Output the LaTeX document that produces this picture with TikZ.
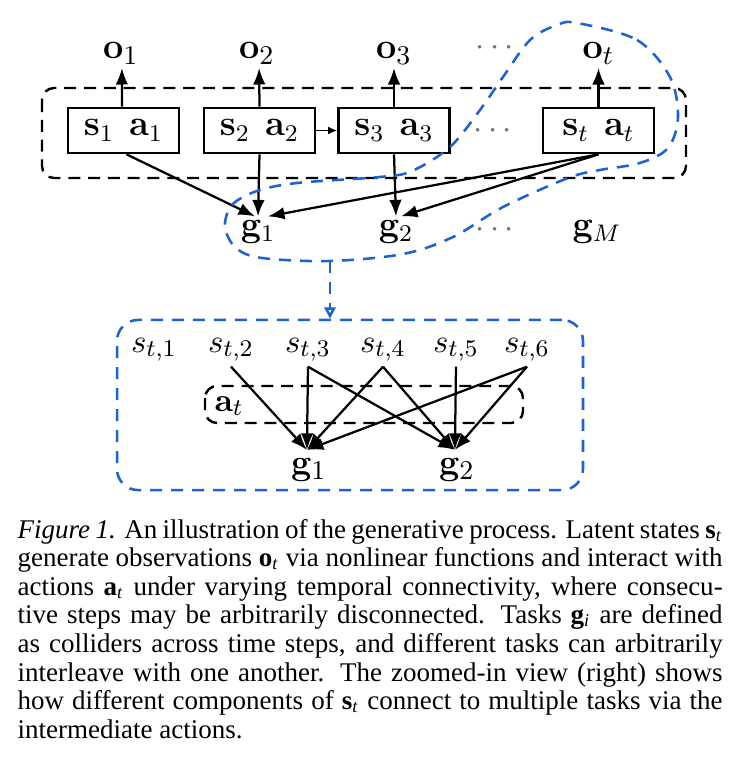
\documentclass[tikz,border=0pt]{standalone}
\usepackage[no-math]{fontspec}
\setmainfont{Liberation Serif}
\usetikzlibrary{arrows.meta,calc}
\definecolor{zoomblue}{RGB}{28,98,214}
\newcommand{\capvec}[2]{\textbf{#1}\textsubscript{\textit{#2}}}
\begin{document}
\begin{tikzpicture}[x=0.3333pt,y=-0.3333pt,
  toplbl/.style={inner sep=1pt, font=\fontsize{12.5}{14}\selectfont},
  glbl/.style={inner sep=1pt, font=\fontsize{11.5}{13}\selectfont},
  lowlbl/.style={inner sep=1.5pt, font=\fontsize{11}{13}\selectfont},
  lowg/.style={inner sep=2.5pt, font=\fontsize{12.5}{14}\selectfont},
  statebox/.style={draw, line width=0.9pt, minimum width=37pt, minimum height=15pt,
    inner sep=0pt, font=\fontsize{11.5}{13}\selectfont},
  ellip/.style={text=black!55, font=\fontsize{11}{13}\selectfont, inner sep=0pt},
  blkdash/.style={draw, line width=0.8pt, dash pattern=on 4pt off 2.6pt, rounded corners=4pt},
  bluedash/.style={draw=zoomblue, line width=0.85pt, dash pattern=on 4pt off 3pt},
  arr/.style={line width=0.75pt, -{Latex[length=5.5pt,width=4.2pt]}},
  thinarr/.style={line width=0.5pt, -{Latex[length=3pt,width=2.6pt]}},
  capline/.style={anchor=base west, inner sep=0pt, font=\fontsize{9}{9}\selectfont},
]
\useasboundingbox (0,0) rectangle (739,770);

% ---------- temporal chain ----------
\draw[blkdash] (42,88) rectangle (686,178);

\node[statebox] (b1) at (123.5,130.5) {$\mathbf{s}_1\hspace{5pt}\mathbf{a}_1$};
\node[statebox] (b2) at (259.5,130.5) {$\mathbf{s}_2\hspace{5pt}\mathbf{a}_2$};
\node[statebox] (b3) at (394,130.5) {$\mathbf{s}_3\hspace{5pt}\mathbf{a}_3$};
\node[statebox] (bt) at (598.5,130.5) {$\mathbf{s}_t\hspace{5pt}\mathbf{a}_t$};
\node[ellip] (dmid) at (493,131) {$\cdots$};

\node[toplbl, anchor=base] (o1) at (121,59) {$\mathbf{o}_1$};
\node[toplbl, anchor=base] (o2) at (257,59) {$\mathbf{o}_2$};
\node[toplbl, anchor=base] (o3) at (394,59) {$\mathbf{o}_3$};
\node[toplbl, anchor=base] (ot) at (598.5,59) {$\mathbf{o}_t$};
\node[ellip] (dtop) at (495,48) {$\cdots$};

\node[glbl, anchor=base] (g1) at (258,236) {$\mathbf{g}_1$};
\node[glbl, anchor=base] (g2) at (396,236) {$\mathbf{g}_2$};
\node[glbl, anchor=base] (gM) at (597,236) {$\mathbf{g}_M$};
\node[ellip] (dbot) at (495,230) {$\cdots$};

\draw[arr] ([xshift=-0.5pt]b1.north) -- ([xshift=0.3pt]o1.south);
\draw[arr] (b2.north) -- ([xshift=0.7pt]o2.south);
\draw[arr] (b3.north) -- (o3.south);
\draw[arr] (bt.north) -- (ot.south);
\draw[thinarr] (b2.east) -- (b3.west);

\draw[arr] ([xshift=1pt]b1.south) -- ([xshift=-1pt]g1.north);
\draw[arr] (b2.south) -- (g1.north);
\draw[arr] (bt.south) -- ($(g1.north)+(10,0)$);
\draw[arr] (b3.south) -- (g2.north);
\draw[arr] (bt.south) -- ($(g2.north)+(5,0)$);

% ---------- selected region and zoom-in ----------
\draw[bluedash] plot[smooth cycle, tension=0.55] coordinates {
  (577,23) (637,40) (670,77) (678,117) (668,148) (640,163) (600,170)
  (568,178) (503,207) (453,237) (403,254) (330,261) (262,258) (236,248)
  (225,227) (232,205) (257,191) (297,183) (380,177) (412,171) (450,147)
  (480,110) (503,77) (530,40) (557,25)};
\coordinate (blobtip) at (330,261);

\node[bluedash, rounded corners=7pt, minimum width=155.3pt, minimum height=56.7pt,
  inner sep=0pt] (zoom) at (350,405) {};
\draw[bluedash, -{Triangle[open,length=3.8pt,width=3.8pt]}] (blobtip) -- (blobtip |- zoom.north);

\draw[blkdash, rounded corners=4pt] (205,386) rectangle (523,423);
\node[lowlbl, anchor=base west, inner sep=0pt] (at) at (214,411) {$\mathbf{a}_t$};

\node[lowlbl, anchor=base] (s1) at (154,352) {$s_{t,1}$};
\node[lowlbl, anchor=base] (s2) at (231,352) {$s_{t,2}$};
\node[lowlbl, anchor=base] (s3) at (308,352) {$s_{t,3}$};
\node[lowlbl, anchor=base] (s4) at (383,352) {$s_{t,4}$};
\node[lowlbl, anchor=base] (s5) at (456,352) {$s_{t,5}$};
\node[lowlbl, anchor=base] (s6) at (527,352) {$s_{t,6}$};

\node[lowg, anchor=base] (h1) at (309,474) {$\mathbf{g}_1$};
\node[lowg, anchor=base] (h2) at (457,474) {$\mathbf{g}_2$};

\foreach \s/\h in {s2/h1,s3/h1,s3/h2,s4/h1,s4/h2,s5/h2,s6/h1,s6/h2}
  \draw[arr] (\s.south) -- ([xshift=-0.7pt]\h.north);

% ---------- caption ----------
\node[capline] (c1) at (17,538) {\makebox[235pt][s]{\textit{Figure 1.} An illustration of the generative process. Latent states \capvec{s}{t}}};
\node[capline] (c2) at (17,566.6) {\makebox[235pt][s]{generate observations \capvec{o}{t} via nonlinear functions and interact with}};
\node[capline] (c3) at (17,595.2) {\makebox[235pt][s]{actions \capvec{a}{t} under varying temporal connectivity, where consecu-}};
\node[capline] (c4) at (17,623.8) {\makebox[235pt][s]{tive steps may be arbitrarily disconnected. Tasks \capvec{g}{i} are defined}};
\node[capline] (c5) at (17,652.4) {\makebox[235pt][s]{as colliders across time steps, and different tasks can arbitrarily}};
\node[capline] (c6) at (17,681) {\makebox[235pt][s]{interleave with one another. The zoomed-in view (right) shows}};
\node[capline] (c7) at (17,709.6) {\makebox[235pt][s]{how different components of \capvec{s}{t} connect to multiple tasks via the}};
\node[capline] (c8) at (17,738.2) {intermediate actions.};
\end{tikzpicture}
\end{document}
